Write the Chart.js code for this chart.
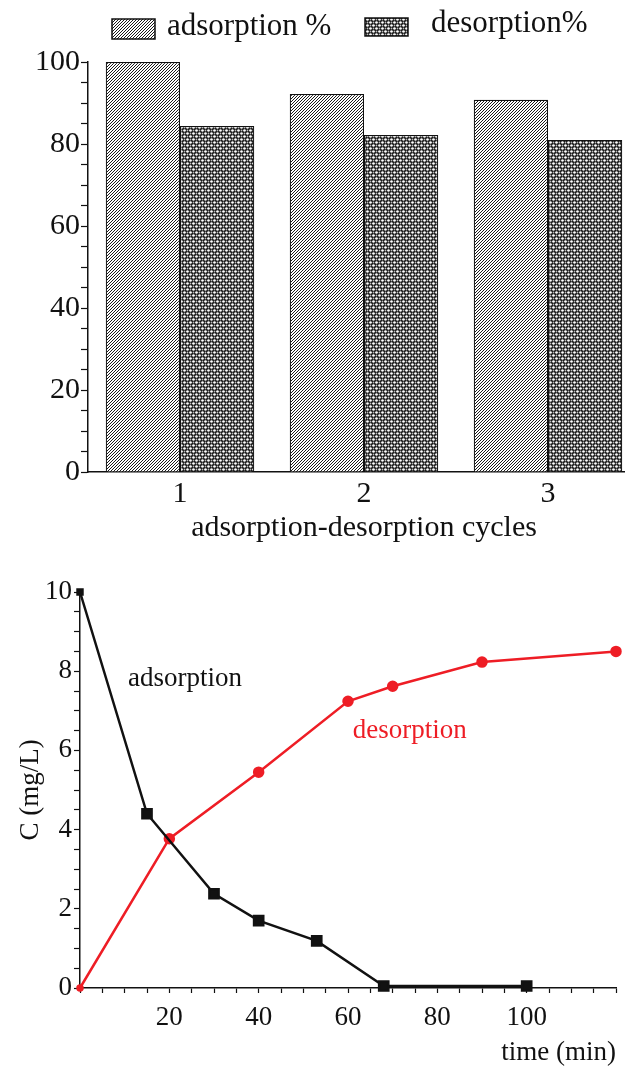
<!DOCTYPE html>
<html>
<head>
<meta charset="utf-8">
<script src="https://cdn.jsdelivr.net/npm/chart.js@4.4.1/dist/chart.umd.min.js"></script>
<style>
  html, body { margin: 0; padding: 0; background: #fff; overflow: hidden; width: 625px; height: 1066px; }
  #top { position: absolute; left: 0; top: 0; }
  #bottom { position: absolute; left: 0; top: 560px; }
</style>
</head>
<body>
<canvas id="top" width="652" height="560"></canvas>
<canvas id="bottom" width="625" height="506"></canvas>
<script>
// ---- data: top bar chart ----
const cycleLabels = ['1', '2', '3'];
const adsorptionPct = [100, 92.2, 90.8];
const desorptionPct = [84.4, 82.2, 81.0];
const barSeriesNames = ['adsorption %', 'desorption%'];

// ---- data: bottom line chart ----
const adsTime = [0, 15, 30, 40, 53, 68, 100];
const adsConc = [10, 4.4, 2.38, 1.7, 1.19, 0.05, 0.05];
const desTime = [0, 20, 40, 60, 70, 90, 120];
const desConc = [0, 3.77, 5.45, 7.24, 7.62, 8.23, 8.5];
const lineSeriesNames = ['adsorption', 'desorption'];

const SERIF = "'Liberation Serif', 'Times New Roman', serif";
const INK = '#111';
const RED = '#ee1d25';

function diagPattern() {
  const n = 3;
  const c = document.createElement('canvas');
  c.width = n; c.height = n;
  const g = c.getContext('2d');
  g.fillStyle = '#fff'; g.fillRect(0, 0, n, n);
  g.strokeStyle = '#1a1a1a'; g.lineWidth = 1;
  g.beginPath();
  g.moveTo(-1, n + 1); g.lineTo(n + 1, -1);
  g.moveTo(-1, 1); g.lineTo(1, -1);
  g.moveTo(n - 1, n + 1); g.lineTo(n + 1, n - 1);
  g.stroke();
  return g.createPattern(c, 'repeat');
}
function crossPattern() {
  const n = 6;
  const c = document.createElement('canvas');
  c.width = n; c.height = n;
  const g = c.getContext('2d');
  g.fillStyle = '#111'; g.fillRect(0, 0, n, n);
  g.fillStyle = '#fff';
  // white dots on a diagonal lattice
  [[1.5, 1.5], [4.5, 4.5]].forEach(([x, y]) => {
    g.beginPath(); g.arc(x, y, 1.35, 0, Math.PI * 2); g.fill();
  });
  g.fillStyle = '#bbb';
  [[4.5, 1.5], [1.5, 4.5]].forEach(([x, y]) => {
    g.beginPath(); g.arc(x, y, 0.9, 0, Math.PI * 2); g.fill();
  });
  return g.createPattern(c, 'repeat');
}

const patA = diagPattern();
const patD = crossPattern();

const barLegend = {
  id: 'barLegend',
  afterDraw(chart) {
    const ctx = chart.ctx;
    const boxes = [
      { x: 112, y: 19, w: 43, h: 20, tx: 167, ty: 35 },
      { x: 365, y: 18, w: 43, h: 18, tx: 431, ty: 32 }
    ];
    ctx.save();
    chart.data.datasets.forEach((ds, i) => {
      const b = boxes[i];
      ctx.fillStyle = ds.backgroundColor;
      ctx.fillRect(b.x, b.y, b.w, b.h);
      ctx.strokeStyle = '#111';
      ctx.lineWidth = 1.5;
      ctx.strokeRect(b.x, b.y, b.w, b.h);
      ctx.fillStyle = INK;
      ctx.font = '31px ' + SERIF;
      ctx.textAlign = 'left';
      ctx.textBaseline = 'alphabetic';
      ctx.fillText(ds.label, b.tx, b.ty);
    });
    ctx.restore();
  }
};

new Chart(document.getElementById('top'), {
  type: 'bar',
  data: {
    labels: cycleLabels,
    datasets: [
      { label: barSeriesNames[0], data: adsorptionPct, backgroundColor: patA, borderColor: '#111', borderWidth: 1.2 },
      { label: barSeriesNames[1], data: desorptionPct, backgroundColor: patD, borderColor: '#111', borderWidth: 1.2 }
    ]
  },
  options: {
    responsive: false,
    animation: false,
    devicePixelRatio: 1,
    layout: { padding: { top: 62, right: 12, left: 0, bottom: 0 } },
    datasets: { bar: { categoryPercentage: 0.807, barPercentage: 1.0 } },
    plugins: { legend: { display: false }, tooltip: { enabled: false } },
    scales: {
      x: {
        type: 'category',
        offset: true,
        grid: { display: false, drawTicks: false },
        border: { display: true, color: '#111', width: 1.5 },
        ticks: { color: INK, font: { family: SERIF, size: 30 }, padding: 4, maxRotation: 0 },
        title: { display: true, text: 'adsorption-desorption cycles', color: INK, font: { family: SERIF, size: 30, lineHeight: 1 }, padding: { top: 0, bottom: 17 } },
        afterFit(s) { s.height = 88; }
      },
      y: {
        min: 0, max: 100,
        grid: { drawOnChartArea: false, drawTicks: true, tickLength: 7, tickColor: '#111', tickWidth: 1.2 },
        border: { display: true, color: '#111', width: 1.5 },
        ticks: {
          stepSize: 5, autoSkip: false, padding: 1, color: INK,
          font: { family: SERIF, size: 30 },
          callback: v => (v % 20 === 0 ? String(v) : '')
        },
        afterFit(s) { s.width = 88; }
      }
    }
  },
  plugins: [barLegend]
});

const lineLabels = {
  id: 'lineLabels',
  afterDatasetsDraw(chart) {
    const ctx = chart.ctx, xs = chart.scales.x, ys = chart.scales.y;
    const spots = [
      { t: 23.5, c: 7.8, color: INK },
      { t: 73.8, c: 6.5, color: RED }
    ];
    ctx.save();
    ctx.font = '27px ' + SERIF;
    ctx.textAlign = 'center';
    ctx.textBaseline = 'middle';
    chart.data.datasets.forEach((ds, i) => {
      const s = spots[i];
      ctx.fillStyle = s.color;
      ctx.fillText(ds.label, xs.getPixelForValue(s.t), ys.getPixelForValue(s.c));
    });
    ctx.restore();
  }
};

new Chart(document.getElementById('bottom'), {
  type: 'line',
  data: {
    datasets: [
      {
        label: lineSeriesNames[0],
        data: adsTime.map((t, i) => ({ x: t, y: adsConc[i] })),
        borderColor: '#111', backgroundColor: '#111', borderWidth: 2.5,
        pointStyle: 'rect',
        pointRadius: ctx => (ctx.dataIndex === 0 ? 3.5 : 6.5),
        tension: 0, fill: false
      },
      {
        label: lineSeriesNames[1],
        data: desTime.map((t, i) => ({ x: t, y: desConc[i] })),
        borderColor: RED, backgroundColor: RED, borderWidth: 2.5,
        pointStyle: 'circle',
        pointRadius: ctx => (ctx.dataIndex === 0 ? 2.5 : 4.5),
        tension: 0, fill: false
      }
    ]
  },
  options: {
    responsive: false,
    animation: false,
    devicePixelRatio: 1,
    clip: false,
    layout: { padding: { top: 32, right: 5, left: 0, bottom: 0 } },
    plugins: { legend: { display: false }, tooltip: { enabled: false } },
    scales: {
      x: {
        type: 'linear', min: 0, max: 120,
        grid: { drawOnChartArea: false, drawTicks: true, tickLength: 5, tickColor: '#111', tickWidth: 1.2 },
        border: { display: true, color: '#111', width: 1.5 },
        ticks: {
          stepSize: 5, autoSkip: false, padding: 9, maxRotation: 0, color: INK,
          font: { family: SERIF, size: 27 },
          callback: v => (v % 20 === 0 && v > 0 && v < 120 ? String(v) : '')
        },
        title: { display: true, text: 'time (min)', align: 'end', color: INK, font: { family: SERIF, size: 27, lineHeight: 1 }, padding: { top: 0, bottom: 0 } },
        afterFit(s) { s.height = 78; }
      },
      y: {
        type: 'linear', min: 0, max: 10,
        grid: { drawOnChartArea: false, drawTicks: true, tickLength: 6, tickColor: '#111', tickWidth: 1.2 },
        border: { display: true, color: '#111', width: 1.5 },
        ticks: {
          stepSize: 0.5, autoSkip: false, padding: 2, color: INK,
          font: { family: SERIF, size: 27 },
          callback: v => (Math.abs(v % 2) < 1e-9 ? String(v) : '')
        },
        title: { display: true, text: 'C (mg/L)', color: INK, font: { family: SERIF, size: 27, lineHeight: 1 }, padding: { top: 17, bottom: 0 } },
        afterFit(s) { s.width = 80; }
      }
    }
  },
  plugins: [lineLabels]
});
</script>
</body>
</html>
